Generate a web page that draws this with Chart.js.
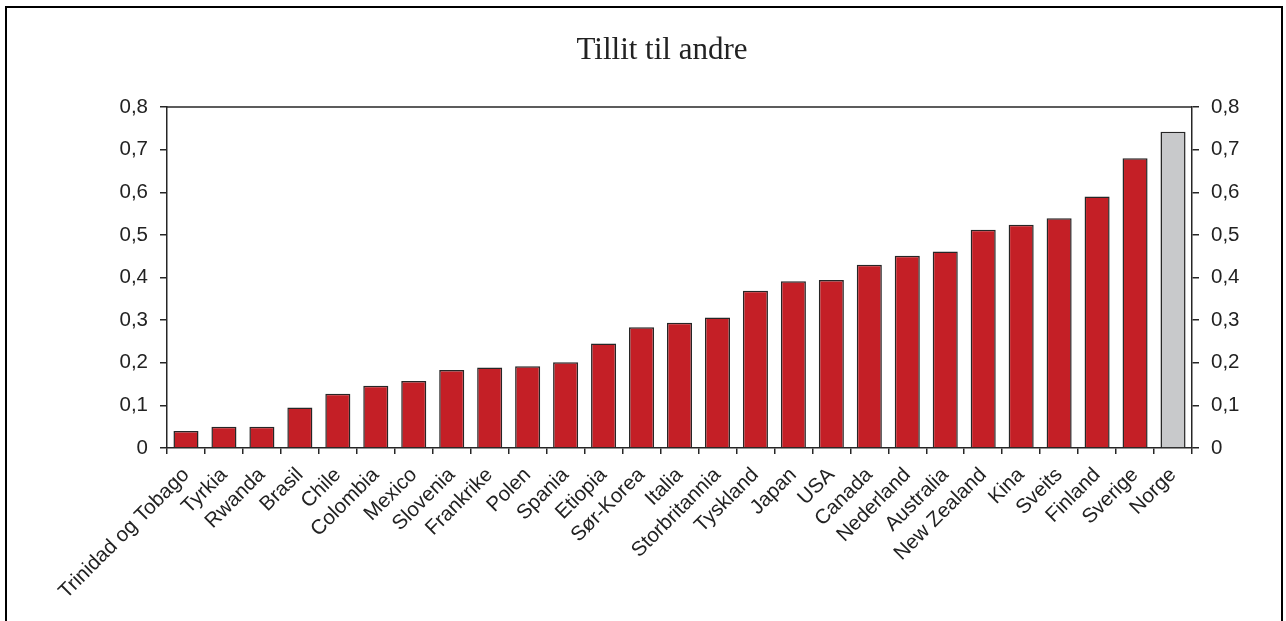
<!DOCTYPE html>
<html>
<head>
<meta charset="utf-8">
<script src="https://cdn.jsdelivr.net/npm/chart.js@4/dist/chart.umd.min.js"></script>
<style>
  html, body { margin: 0; padding: 0; background: #fff; }
  body { width: 1286px; height: 621px; overflow: hidden; position: relative; }
  #frame { position: absolute; left: 5px; top: 6px; width: 1274px; height: 700px; border: 2px solid #000; }
  #wrap { position: absolute; left: 0; top: 0; width: 1286px; height: 621px; }
</style>
</head>
<body>
<div id="frame"></div>
<div id="wrap"><canvas id="chart" width="1286" height="621"></canvas></div>
<script>
// land og andel som svarer at de fleste kan stoles paa
const countries = ['Trinidad og Tobago', 'Tyrkia', 'Rwanda', 'Brasil', 'Chile', 'Colombia', 'Mexico',
  'Slovenia', 'Frankrike', 'Polen', 'Spania', 'Etiopia', 'Sør-Korea', 'Italia', 'Storbritannia',
  'Tyskland', 'Japan', 'USA', 'Canada', 'Nederland', 'Australia', 'New Zealand', 'Kina', 'Sveits',
  'Finland', 'Sverige', 'Norge'];
const trust = [0.040, 0.050, 0.050, 0.095, 0.127, 0.146, 0.157,
  0.183, 0.189, 0.192, 0.201, 0.245, 0.283, 0.294, 0.306,
  0.369, 0.391, 0.394, 0.430, 0.451, 0.461, 0.512, 0.524, 0.539,
  0.590, 0.680, 0.742];
const highlight = 'Norge';
const titleText = 'Tillit til andre';

const RED = '#C41F26';
const GREY = '#C8C9CB';
const INK = '#262626';
const tickFont = { family: "'Liberation Sans', Arial, sans-serif", size: 20.5 };

const fmt = v => (Math.abs(v) < 1e-9 ? '0' : v.toFixed(1).replace('.', ','));

// tittel og toppkant av plottet
const extras = {
  id: 'extras',
  afterDraw(chart) {
    const {ctx, chartArea} = chart;
    ctx.save();
    ctx.strokeStyle = INK;
    ctx.lineWidth = 1.5;
    ctx.beginPath();
    ctx.moveTo(chartArea.left, chartArea.top);
    ctx.lineTo(chartArea.right, chartArea.top);
    ctx.stroke();
    ctx.fillStyle = '#222';
    ctx.font = "31px 'Liberation Serif', 'Times New Roman', serif";
    ctx.textAlign = 'center';
    ctx.textBaseline = 'alphabetic';
    ctx.fillText(titleText, 662, 59);
    ctx.restore();
  }
};

new Chart(document.getElementById('chart'), {
  type: 'bar',
  data: {
    labels: countries,
    datasets: [{
      data: trust,
      backgroundColor: countries.map(c => c === highlight ? GREY : RED),
      borderColor: INK,
      borderWidth: 1.5,
      borderSkipped: 'bottom',
      barPercentage: 0.66,
      categoryPercentage: 1.0
    }]
  },
  options: {
    responsive: false,
    animation: false,
    devicePixelRatio: 1,
    layout: { padding: { top: 107, left: 0, right: 0, bottom: 0 } },
    plugins: { legend: { display: false }, title: { display: false }, tooltip: { enabled: false } },
    scales: {
      x: {
        offset: true,
        grid: { offset: true, drawOnChartArea: false, drawTicks: true, tickLength: 6, color: INK, lineWidth: 1.5 },
        border: { display: true, color: INK, width: 1.5 },
        ticks: { color: '#222', font: tickFont, minRotation: 45, maxRotation: 45, autoSkip: false, padding: 9 },
        afterFit(scale) { scale.height = 173; }
      },
      y: {
        position: 'left',
        min: 0, max: 0.8,
        grid: { drawOnChartArea: false, drawTicks: true, tickLength: 7, color: INK, lineWidth: 1.5 },
        border: { display: true, color: INK, width: 1.5 },
        ticks: { stepSize: 0.1, color: '#222', font: tickFont, padding: 12, callback: v => fmt(v) },
        afterFit(scale) { scale.width = 167; }
      },
      y2: {
        position: 'right',
        min: 0, max: 0.8,
        grid: { drawOnChartArea: false, drawTicks: true, tickLength: 7, color: INK, lineWidth: 1.5 },
        border: { display: true, color: INK, width: 1.5 },
        ticks: { stepSize: 0.1, color: '#222', font: tickFont, padding: 12, callback: v => fmt(v) },
        afterFit(scale) { scale.width = 94; }
      }
    }
  },
  plugins: [extras]
});
</script>
</body>
</html>
